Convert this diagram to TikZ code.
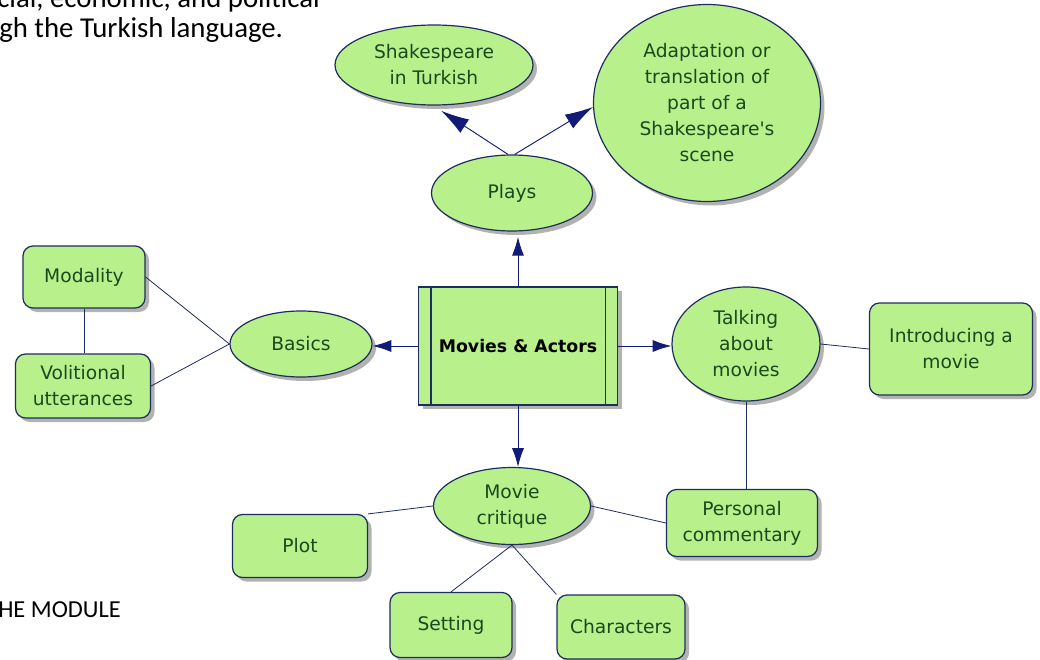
\documentclass[tikz,border=0pt]{standalone}
\usepackage{fontspec}
\setmainfont{Carlito}
\newfontfamily\nodefont{DejaVu Sans}
\usetikzlibrary{shapes.geometric,arrows.meta,shadows}
\definecolor{fillgreen}{RGB}{184,241,140}
\definecolor{navy}{RGB}{18,28,120}
\definecolor{edgeblue}{RGB}{30,45,95}
\definecolor{txtgreen}{RGB}{28,72,30}
\tikzset{
  shad/.style={drop shadow={shadow xshift=3pt,shadow yshift=-3pt,fill=black!50,opacity=0.6}},
  base/.style={draw=edgeblue,line width=0.9pt,fill=fillgreen,shad,inner sep=0pt,align=center,
    text=txtgreen,font=\nodefont\fontsize{14}{19.5}\selectfont},
  oval/.style={base,ellipse},
  rbox/.style={base,rectangle,rounded corners=7.5pt},
  sz/.style 2 args={minimum width=#1*0.75pt,minimum height=#2*0.75pt},
  link/.style={draw=edgeblue,line width=0.6pt},
  arr/.style={draw=navy,line width=0.7pt,-{Latex[length=14pt,width=9pt]}},
  bigarr/.style={draw=navy,line width=0.7pt,-{Latex[length=21pt,width=12pt]}},
  page/.style={font=\fontsize{21.6}{26}\selectfont,anchor=base west,inner sep=0pt,text=black}
}
\begin{document}
\begin{tikzpicture}[x=0.75pt,y=-0.75pt]
\useasboundingbox (0,0) rectangle (1040,660);
\fill[white] (0,0) rectangle (1040,660);
% page text
\node[page] (t1) at (-3,8) {cial, economic, and political};
\node[page] (t2) at (-1,38) {gh the Turkish language.};
\node[page,font=\fontsize{18.3}{22}\selectfont] (t3) at (-2,617) {HE MODULE};
% nodes
\node[oval,sz={198}{80}] (sit) at (434,65) {Shakespeare\\in Turkish};
\node[oval,sz={227}{197}] (adapt) at (707,103) {Adaptation or\\translation of\\part of a\\Shakespeare's\\scene};
\node[oval,sz={161}{76}] (plays) at (512,193) {Plays};
\node[base,rectangle,sz={199}{118},text=black,font=\nodefont\bfseries\fontsize{13}{15}\selectfont] (ma) at (518,346) {Movies \& Actors};
\draw[edgeblue,line width=0.9pt] ([xshift=13*0.75pt]ma.north west) -- ([xshift=13*0.75pt]ma.south west)
  ([xshift=-13*0.75pt]ma.north east) -- ([xshift=-13*0.75pt]ma.south east);
\node[oval,sz={142}{66}] (basics) at (301,344) {Basics};
\node[rbox,sz={122}{62}] (mod) at (84,277) {Modality};
\node[rbox,sz={135}{64}] (vol) at (83,386) {Volitional\\utterances};
\node[oval,sz={148}{114}] (talk) at (746,344) {Talking\\about\\movies};
\node[rbox,sz={163}{92}] (intro) at (951,349) {Introducing a\\movie};
\node[oval,sz={157}{77}] (crit) at (512,506) {Movie\\critique};
\node[rbox,sz={151}{67}] (pc) at (742,523) {Personal\\commentary};
\node[rbox,sz={135}{63}] (plot) at (300,546) {Plot};
\node[rbox,sz={122}{65}] (set) at (451,625) {Setting};
\node[rbox,sz={128}{64}] (chars) at (621,627) {Characters};
% connectors
\draw[arr] (ma.north) -- ([yshift=-4pt]ma.north |- plays.south);
\draw[arr] (ma.west) -- (ma.west -| basics.east);
\draw[arr] (ma.east) -- (ma.east -| talk.west);
\draw[arr] (ma.south) -- (ma.south |- crit.north);
\draw[bigarr] ([xshift=-3pt]plays.north) -- ([yshift=-4pt]sit.-80);
\draw[bigarr] ([xshift=2pt]plays.north) -- (adapt.182);
\draw[link] (basics.west) -- (mod.east);
\draw[link] (basics.west) -- (vol.east);
\draw[link] (mod.south) -- (vol.north -| mod.south);
\draw[link] (talk.east) -- (intro.west);
\draw[link] (talk.south) -- (talk.south |- pc.north);
\draw[link] (crit.east) -- (pc.west);
\draw[link] (crit.west) -- (plot.north east);
\draw[link] (crit.south) -- (set.north);
\draw[link] (crit.south) -- (chars.north west);
\end{tikzpicture}
\end{document}
